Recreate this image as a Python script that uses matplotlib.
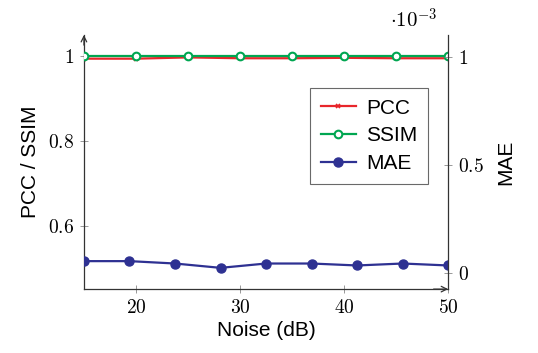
import numpy as np
import matplotlib
matplotlib.use("Agg")
import matplotlib.pyplot as plt
from matplotlib.ticker import FuncFormatter

# data
noise = [15, 20, 25, 30, 35, 40, 45, 50]
pcc = [0.994, 0.994, 0.997, 0.995, 0.995, 0.996, 0.995, 0.995]
ssim = [1.0, 1.0, 1.0, 1.0, 1.0, 1.0, 1.0, 1.0]
noise_mae = [15, 19.375, 23.75, 28.125, 32.5, 36.875, 41.25, 45.625, 50]
mae = [0.057e-3, 0.057e-3, 0.046e-3, 0.026e-3, 0.046e-3, 0.046e-3, 0.037e-3, 0.046e-3, 0.037e-3]

plt.rcParams['mathtext.fontset'] = 'cm'
plt.rcParams['font.family'] = ['Liberation Sans', 'DejaVu Sans']

red = '#e8262b'
green = '#00a651'
blue = '#2e3192'
axcol = '#333333'

fig = plt.figure(figsize=(5.38, 3.53), dpi=100)
ax = fig.add_axes([0.156, 0.181, 0.677, 0.72])
ax2 = ax.twinx()

l1, = ax.plot(noise, pcc, color=red, lw=1.6, marker='x', ms=3.5, mew=1.2, label='PCC', zorder=3)
l2, = ax.plot(noise, ssim, color=green, lw=1.6, marker='o', ms=5.5, mfc='white', mew=1.5, label='SSIM', zorder=4)
l3, = ax2.plot(noise_mae, mae, color=blue, lw=1.6, marker='o', ms=6.5, label='MAE')

ax.set_xlim(15, 50)
ax.set_ylim(0.45, 1.05)
ax2.set_ylim(-0.072e-3, 1.1e-3)

ax.set_xticks([20, 30, 40, 50])
ax.set_yticks([0.6, 0.8, 1.0])
ax2.set_yticks([0, 0.5e-3, 1e-3])

def fmt(v, pos):
    return '$%g$' % v

ax.xaxis.set_major_formatter(FuncFormatter(fmt))
ax.yaxis.set_major_formatter(FuncFormatter(fmt))
ax2.yaxis.set_major_formatter(FuncFormatter(lambda v, p: '$%g$' % (v * 1e3)))

for a in (ax, ax2):
    a.tick_params(direction='inout', length=6, width=0.6, color='#888888', labelsize=14, pad=4)
    for s in a.spines.values():
        s.set_color(axcol)
        s.set_linewidth(0.9)
    a.spines['top'].set_visible(False)
ax.spines['right'].set_visible(False)
ax2.spines['left'].set_visible(False)
ax2.spines['bottom'].set_visible(False)
ax.patch.set_visible(False)

# arrow heads on left and bottom axes
ax.annotate('', xy=(0, 1.0), xytext=(0, 0.96), xycoords='axes fraction',
            arrowprops=dict(arrowstyle='->', color=axcol, lw=0.9, shrinkA=0, shrinkB=0))
ax.annotate('', xy=(1.0, 0), xytext=(0.96, 0), xycoords='axes fraction',
            arrowprops=dict(arrowstyle='->', color=axcol, lw=0.9, shrinkA=0, shrinkB=0))

ax.set_xlabel('Noise (dB)', fontsize=15, labelpad=3)
ax.set_ylabel('PCC / SSIM', fontsize=15, labelpad=6)
ax2.set_ylabel('MAE', fontsize=15, labelpad=9)

fig.text(0.725, 0.945, r'$\cdot 10^{-3}$', fontsize=15, ha='left', va='center')

leg = ax.legend(handles=[l1, l2, l3], loc='upper right', bbox_to_anchor=(0.945, 0.79),
                fontsize=15, frameon=True, fancybox=False, edgecolor='#444444',
                handlelength=1.7, borderpad=0.5, labelspacing=0.42, handletextpad=0.5,
                borderaxespad=0)
leg.get_frame().set_linewidth(0.8)
leg.set_zorder(10)

fig.savefig('out.png', dpi=100)
